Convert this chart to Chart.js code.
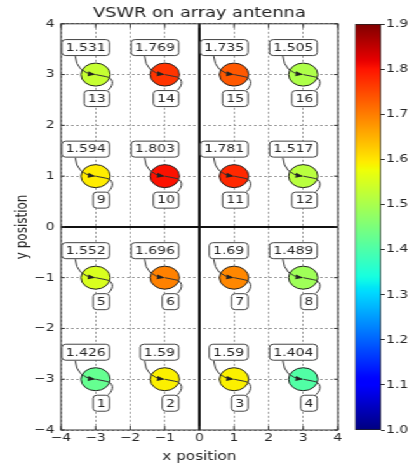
<!DOCTYPE html>
<html>
<head>
<meta charset="utf-8">
<script src="https://cdn.jsdelivr.net/npm/chart.js@4.4.1/dist/chart.umd.min.js"></script>
<style>
  html, body { margin: 0; padding: 0; background: #fff; overflow: hidden; }
  /* the reference picture is stretched sideways, so the whole figure is too */
  #wrap { position: relative; width: 322px; height: 468px; transform: scaleX(1.27); transform-origin: 0 0; }
  #main { position: absolute; left: 0; top: 0; }
  #cbar { position: absolute; left: 270px; top: 0; }
</style>
</head>
<body>
<div id="wrap">
  <canvas id="main" width="322" height="468"></canvas>
  <canvas id="cbar" width="52" height="468"></canvas>
</div>
<script>
// element positions (array grid) and measured VSWR
const xPos = [-3, -1, 1, 3, -3, -1, 1, 3, -3, -1, 1, 3, -3, -1, 1, 3];
const yPos = [-3, -3, -3, -3, -1, -1, -1, -1, 1, 1, 1, 1, 3, 3, 3, 3];
const vswr = [1.426, 1.59, 1.59, 1.404, 1.552, 1.696, 1.69, 1.489, 1.594, 1.803, 1.781, 1.517, 1.531, 1.769, 1.735, 1.505];
const elementIds = ['1', '2', '3', '4', '5', '6', '7', '8', '9', '10', '11', '12', '13', '14', '15', '16'];

const xTicks = [-4, -3, -2, -1, 0, 1, 2, 3, 4];
const yTicks = [-4, -3, -2, -1, 0, 1, 2, 3, 4];
const cbTicks = [1.0, 1.1, 1.2, 1.3, 1.4, 1.5, 1.6, 1.7, 1.8, 1.9];
const cbMin = 1.0;
const cbMax = 1.9;

const FONT = 'DejaVu Sans';
const TEXT = '#262626';

// matplotlib 'jet' segment data
const JET = {
  r: [[0, 0], [0.35, 0], [0.66, 1], [0.89, 1], [1, 0.5]],
  g: [[0, 0], [0.125, 0], [0.375, 1], [0.64, 1], [0.91, 0], [1, 0]],
  b: [[0, 0.5], [0.11, 1], [0.34, 1], [0.65, 0], [1, 0]]
};

function seg(pts, t) {
  for (let i = 1; i < pts.length; i++) {
    if (t <= pts[i][0]) {
      const [t0, v0] = pts[i - 1];
      const [t1, v1] = pts[i];
      return v0 + (v1 - v0) * (t - t0) / (t1 - t0);
    }
  }
  return pts[pts.length - 1][1];
}

function jetColor(v) {
  const t = Math.min(1, Math.max(0, (v - cbMin) / (cbMax - cbMin)));
  const r = Math.round(seg(JET.r, t) * 255);
  const g = Math.round(seg(JET.g, t) * 255);
  const b = Math.round(seg(JET.b, t) * 255);
  return `rgb(${r},${g},${b})`;
}

function fmtTick(v) {
  return v < 0 ? '\u2212' + Math.abs(v) : String(v);
}

function roundedRect(ctx, x, y, w, h, r) {
  ctx.beginPath();
  ctx.moveTo(x + r, y);
  ctx.lineTo(x + w - r, y);
  ctx.quadraticCurveTo(x + w, y, x + w, y + r);
  ctx.lineTo(x + w, y + h - r);
  ctx.quadraticCurveTo(x + w, y + h, x + w - r, y + h);
  ctx.lineTo(x + r, y + h);
  ctx.quadraticCurveTo(x, y + h, x, y + h - r);
  ctx.lineTo(x, y + r);
  ctx.quadraticCurveTo(x, y, x + r, y);
  ctx.closePath();
}

function drawBox(ctx, text, right, cy) {
  ctx.font = `11px "${FONT}"`;
  const w = ctx.measureText(text).width + 6;
  const h = 16;
  const left = right - w;
  roundedRect(ctx, left, cy - h / 2, w, h, 3);
  ctx.fillStyle = '#fff';
  ctx.fill();
  ctx.strokeStyle = '#444';
  ctx.lineWidth = 1;
  ctx.stroke();
  ctx.fillStyle = TEXT;
  ctx.textAlign = 'center';
  ctx.textBaseline = 'middle';
  ctx.fillText(text, left + w / 2, cy + 0.5);
}

function arrowHead(ctx, fx, fy, tx, ty) {
  const a = Math.atan2(ty - fy, tx - fx);
  const len = 6, half = 2.5;
  ctx.beginPath();
  ctx.moveTo(tx, ty);
  ctx.lineTo(tx - len * Math.cos(a) + half * Math.sin(a), ty - len * Math.sin(a) - half * Math.cos(a));
  ctx.lineTo(tx - len * Math.cos(a) - half * Math.sin(a), ty - len * Math.sin(a) + half * Math.cos(a));
  ctx.closePath();
  ctx.fillStyle = '#222';
  ctx.fill();
}

// frame, inward tick marks, and the heavy x=0 / y=0 lines
const framePlugin = {
  id: 'frame',
  beforeDatasetsDraw(chart) {
    const { ctx, chartArea: a, scales: { x, y } } = chart;
    const x0 = x.getPixelForValue(0);
    const y0 = y.getPixelForValue(0);
    ctx.save();
    ctx.strokeStyle = '#111';
    ctx.lineWidth = 2;
    ctx.beginPath();
    ctx.moveTo(x0, a.top);
    ctx.lineTo(x0, a.bottom);
    ctx.moveTo(a.left, y0);
    ctx.lineTo(a.right, y0);
    ctx.stroke();

    ctx.lineWidth = 1;
    ctx.strokeStyle = '#333';
    ctx.beginPath();
    xTicks.forEach(v => {
      const p = x.getPixelForValue(v);
      ctx.moveTo(p, a.bottom);
      ctx.lineTo(p, a.bottom - 4);
      ctx.moveTo(p, a.top);
      ctx.lineTo(p, a.top + 4);
    });
    yTicks.forEach(v => {
      const p = y.getPixelForValue(v);
      ctx.moveTo(a.left, p);
      ctx.lineTo(a.left + 3, p);
      ctx.moveTo(a.right, p);
      ctx.lineTo(a.right - 3, p);
    });
    ctx.stroke();
    ctx.strokeRect(a.left, a.top, a.right - a.left, a.bottom - a.top);
    ctx.restore();
  }
};

// value / element-number callouts with curved arrows
const calloutPlugin = {
  id: 'callouts',
  afterDatasetsDraw(chart) {
    const { ctx, scales: { x, y } } = chart;
    ctx.save();
    xPos.forEach((xv, i) => {
      const px = x.getPixelForValue(xv);
      const py = y.getPixelForValue(yPos[i]);
      ctx.strokeStyle = '#333';
      ctx.lineWidth = 1;
      ctx.beginPath();
      ctx.moveTo(px - 16, py - 18.5);
      ctx.quadraticCurveTo(px - 15, py - 2, px - 1, py);
      ctx.stroke();
      arrowHead(ctx, px - 15, py - 2, px, py);
      ctx.beginPath();
      ctx.moveTo(px + 10, py + 15.5);
      ctx.bezierCurveTo(px + 15, py + 10, px + 14, py + 3, px + 8, py + 2);
      ctx.lineTo(px, py);
      ctx.stroke();
      drawBox(ctx, String(vswr[i]), px + 11, py - 27);
      drawBox(ctx, elementIds[i], px + 11, py + 24);
    });
    ctx.restore();
  }
};

const gridOpts = { color: '#999', lineWidth: 1, drawTicks: false };
const borderOpts = { display: false, dash: [2, 2] };

new Chart(document.getElementById('main'), {
  type: 'scatter',
  data: {
    datasets: [{
      data: xPos.map((xv, i) => ({ x: xv, y: yPos[i] })),
      pointRadius: 11.5,
      pointHoverRadius: 11.5,
      pointBackgroundColor: vswr.map(jetColor),
      pointBorderColor: '#222',
      pointBorderWidth: 1
    }]
  },
  options: {
    responsive: false,
    animation: false,
    events: [],
    layout: { padding: { right: 56 } },
    plugins: {
      legend: { display: false },
      tooltip: { enabled: false },
      title: {
        display: true,
        text: 'VSWR on array antenna',
        fullSize: false,
        color: '#222',
        font: { family: FONT, size: 14, weight: 'normal' },
        padding: { top: 5, bottom: 2 }
      }
    },
    scales: {
      x: {
        type: 'linear',
        min: -4,
        max: 4,
        afterBuildTicks: s => { s.ticks = xTicks.map(v => ({ value: v })); },
        afterFit: s => { s.height = 38; },
        grid: gridOpts,
        border: borderOpts,
        ticks: { padding: 2, color: TEXT, font: { family: FONT, size: 11 }, callback: fmtTick, maxRotation: 0 },
        title: { display: true, text: 'x position', color: TEXT, font: { family: FONT, size: 12 }, padding: { top: 0, bottom: 4 } }
      },
      y: {
        type: 'linear',
        min: -4,
        max: 4,
        afterBuildTicks: s => { s.ticks = yTicks.map(v => ({ value: v })); },
        afterFit: s => { s.width = 48; },
        grid: gridOpts,
        border: borderOpts,
        ticks: { padding: 5, color: TEXT, font: { family: FONT, size: 11 }, callback: fmtTick },
        title: { display: true, text: 'y posistion', color: TEXT, font: { family: FONT, size: 12 }, padding: { top: 11, bottom: 0 } }
      }
    }
  },
  plugins: [framePlugin, calloutPlugin]
});

// colour bar: one floating bar from cbMin to cbMax filled with the jet ramp
new Chart(document.getElementById('cbar'), {
  type: 'bar',
  data: {
    labels: [''],
    datasets: [{
      data: [[cbMin, cbMax]],
      backgroundColor: c => {
        const area = c.chart.chartArea;
        if (!area) return '#888';
        const g = c.chart.ctx.createLinearGradient(0, area.bottom, 0, area.top);
        for (let k = 0; k <= 100; k++) {
          const t = k / 100;
          g.addColorStop(t, jetColor(cbMin + t * (cbMax - cbMin)));
        }
        return g;
      },
      borderColor: '#222',
      borderWidth: 1,
      borderSkipped: false,
      barPercentage: 1,
      categoryPercentage: 1
    }]
  },
  options: {
    responsive: false,
    animation: false,
    events: [],
    layout: { padding: { left: 9.5, top: 24, bottom: 38 } },
    plugins: { legend: { display: false }, tooltip: { enabled: false } },
    scales: {
      x: { display: false },
      y: {
        position: 'right',
        min: cbMin,
        max: cbMax,
        afterBuildTicks: s => { s.ticks = cbTicks.map(v => ({ value: v })); },
        afterFit: s => { s.width = 22; },
        grid: { drawOnChartArea: false, drawTicks: true, tickLength: 3, tickColor: '#333' },
        border: { display: false },
        ticks: { padding: 1, color: TEXT, font: { family: FONT, size: 11 }, callback: v => v.toFixed(1) }
      }
    }
  }
});
</script>
</body>
</html>
